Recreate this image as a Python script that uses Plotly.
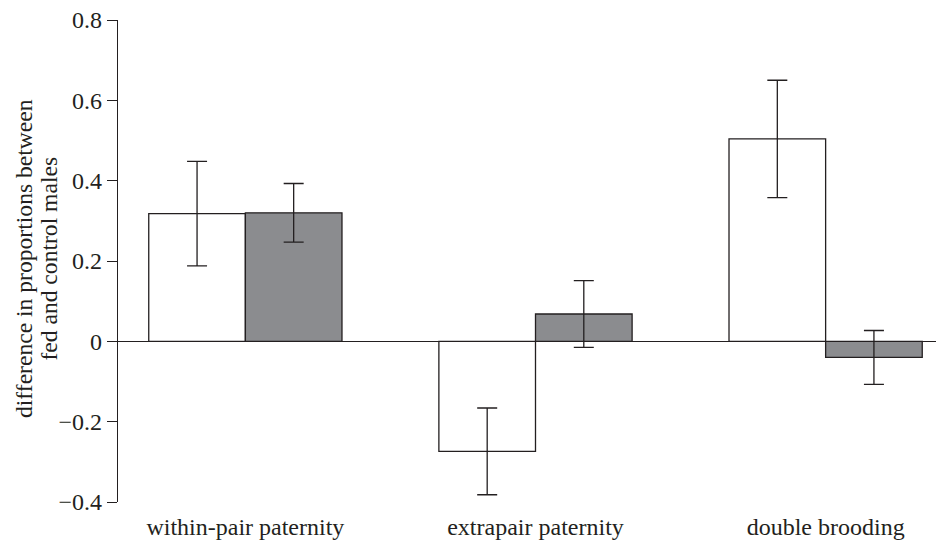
import plotly.graph_objects as go

categories = ["within-pair paternity", "extrapair paternity", "double brooding"]
fed_white = [0.318, -0.274, 0.504]
fed_white_err = [0.130, 0.108, 0.146]
grey_vals = [0.320, 0.068, -0.040]
grey_err = [0.073, 0.083, 0.067]
y_ticks = [-0.4, -0.2, 0, 0.2, 0.4, 0.6, 0.8]
y_ticktext = ["\u22120.4", "\u22120.2", "0", "0.2", "0.4", "0.6", "0.8"]

LINE = "#231f20"
FONT = "Liberation Serif, Times New Roman, serif"
xpos = list(range(len(categories)))

fig = go.Figure()
fig.add_trace(go.Bar(
    x=xpos, y=fed_white, marker=dict(color="white", line=dict(color=LINE, width=1.3)),
    error_y=dict(type="data", array=fed_white_err, color=LINE, thickness=1.3, width=10),
    showlegend=False,
))
fig.add_trace(go.Bar(
    x=xpos, y=grey_vals, marker=dict(color="#8b8c8f", line=dict(color=LINE, width=1.3)),
    error_y=dict(type="data", array=grey_err, color=LINE, thickness=1.3, width=10),
    showlegend=False,
))

fig.update_layout(
    width=936, height=536,
    margin=dict(l=110, r=0, t=12, b=41.5),
    paper_bgcolor="white", plot_bgcolor="white",
    barmode="group", bargap=0.334, bargroupgap=0,
    font=dict(family=FONT, size=24, color=LINE),
    xaxis=dict(
        range=[-0.439, 2.408], tickvals=xpos, ticktext=categories,
        showline=False, showgrid=False, zeroline=False, ticks="",
        tickfont=dict(size=24), ticklabelstandoff=8, ticklabeloverflow="allow",
    ),
    yaxis=dict(
        range=[-0.4, 0.8], tickvals=y_ticks, ticktext=y_ticktext,
        showline=True, linecolor=LINE, linewidth=1.3,
        ticks="outside", ticklen=10, tickwidth=1.3, tickcolor=LINE,
        showgrid=False, zeroline=True, zerolinecolor=LINE, zerolinewidth=1.3,
        tickfont=dict(size=24), ticklabeloverflow="allow",
    ),
)

fig.add_annotation(text="difference in proportions between", textangle=-90,
                   xref="paper", yref="paper", x=-0.1145, y=0.505, xanchor="center", yanchor="middle",
                   showarrow=False, font=dict(size=23.6))
fig.add_annotation(text="fed and control males", textangle=-90,
                   xref="paper", yref="paper", x=-0.0835, y=0.505, xanchor="center", yanchor="middle",
                   showarrow=False, font=dict(size=23.6))

fig.write_html("out.html")
